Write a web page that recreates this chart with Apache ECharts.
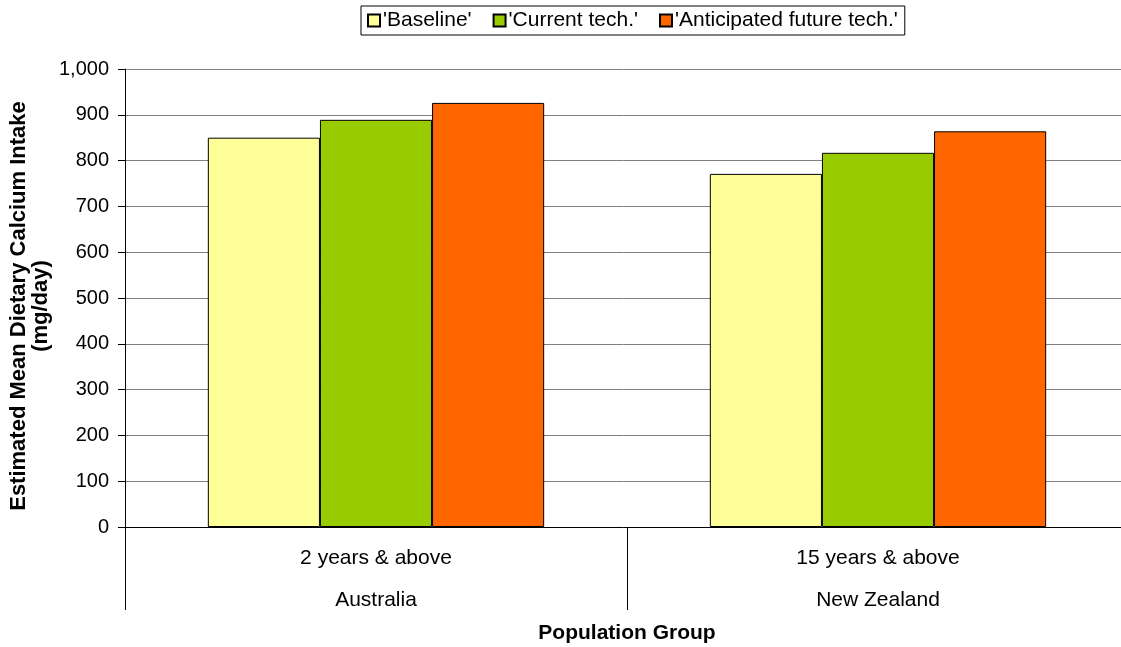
<!DOCTYPE html>
<html>
<head>
<meta charset="utf-8">
<script src="https://cdn.jsdelivr.net/npm/echarts@6/dist/echarts.min.js"></script>
<style>
html,body{margin:0;padding:0;background:#fff;}
#chart{width:1121px;height:647px;}
</style>
</head>
<body>
<div id="chart"></div>
<script>
// Population groups (sub-group and country) along the category axis
const groups = ['2 years & above', '15 years & above'];
const countries = ['Australia', 'New Zealand'];

// Estimated mean dietary calcium intake, mg/day
const seriesNames = ["'Baseline'", "'Current tech.'", "'Anticipated future tech.'"];
const baseline = [850, 771];
const currentTech = [889, 817];
const futureTech = [926, 864];
const seriesColors = ['#FFFF99', '#99CC00', '#FF6600'];

const yTicks = { min: 0, max: 1000, interval: 100 };

const font = 'Liberation Sans, Arial, sans-serif';
const chart = echarts.init(document.getElementById('chart'));

const values = [baseline, currentTech, futureTech];

chart.setOption({
  animation: false,
  textStyle: { fontFamily: font },
  legend: {
    top: 6,
    left: 361,
    data: seriesNames,
    icon: 'rect',
    itemWidth: 12,
    itemHeight: 12,
    itemGap: 21,
    padding: [4, 7, 4, 6],
    borderColor: '#000',
    borderWidth: 1,
    textStyle: { fontFamily: font, fontSize: 21, color: '#000', padding: [0, 0, 0, -2] }
  },
  grid: { left: 125, top: 69, width: 1004, height: 458, outerBoundsMode: 'none', containLabel: false },
  xAxis: {
    type: 'category',
    data: groups.map((g, i) => g + '\n' + countries[i]),
    boundaryGap: true,
    name: 'Population Group',
    nameLocation: 'middle',
    nameGap: 106,
    nameMoveOverlap: false,
    nameTextStyle: { fontFamily: font, fontSize: 21, fontWeight: 'bold', color: '#000', verticalAlign: 'middle' },
    axisLine: { lineStyle: { color: '#000', width: 1 } },
    axisTick: { show: true, length: 83, lineStyle: { color: '#000' } },
    axisLabel: {
      color: '#000',
      fontFamily: font,
      fontSize: 21,
      lineHeight: 42,
      margin: 10
    }
  },
  yAxis: {
    type: 'value',
    min: yTicks.min,
    max: yTicks.max,
    interval: yTicks.interval,
    name: 'Estimated Mean Dietary Calcium Intake\n(mg/day)',
    nameLocation: 'middle',
    nameRotate: 90,
    nameGap: 73,
    nameMoveOverlap: false,
    nameTextStyle: {
      fontFamily: font, fontSize: 22, fontWeight: 'bold', color: '#000',
      lineHeight: 22, padding: [0, 16, 0, 0]
    },
    axisLine: { show: true, lineStyle: { color: '#000', width: 1 } },
    axisTick: { show: true, length: 7, lineStyle: { color: '#000' } },
    axisLabel: {
      color: '#000',
      fontFamily: font,
      fontSize: 20,
      margin: 16,
      formatter: v => v.toLocaleString('en-US')
    },
    splitLine: { show: true, lineStyle: { color: '#808080', width: 1 } }
  },
  series: seriesNames.map((name, i) => ({
    name: name,
    type: 'bar',
    data: values[i],
    barGap: '0%',
    barCategoryGap: '33%',
    itemStyle: { color: seriesColors[i], borderColor: '#000', borderWidth: 1 }
  }))
});
</script>
</body>
</html>
